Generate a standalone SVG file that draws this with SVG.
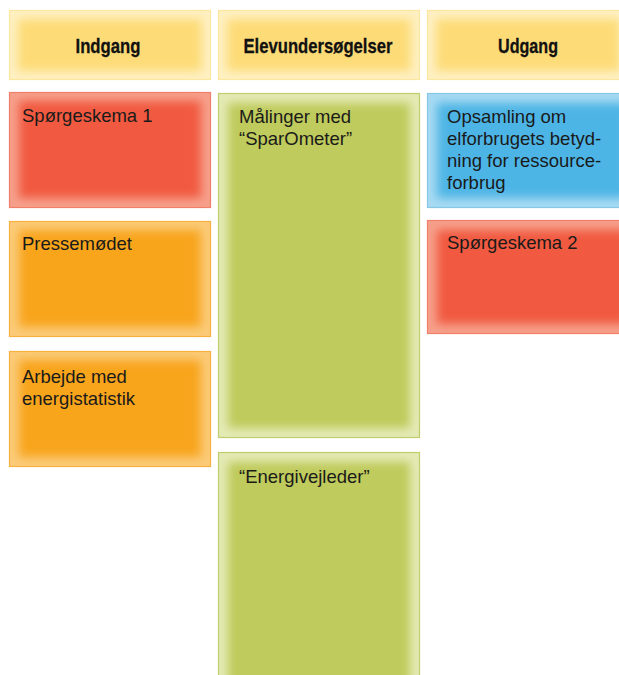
<svg xmlns="http://www.w3.org/2000/svg" width="619" height="675" viewBox="0 0 619 675">
<defs>
<filter id="glow" x="-30%" y="-30%" width="160%" height="160%"><feGaussianBlur stdDeviation="5"/></filter>
<style>
.hd{font-family:"Liberation Sans",Arial,sans-serif;font-weight:bold;font-size:21px;fill:#111;text-anchor:middle;stroke:#111;stroke-width:0.3}
.tx{font-family:"Liberation Sans",Arial,sans-serif;font-size:18.5px;fill:#1a1a1a}
.yo{fill:#FEF0C2;stroke:#FDE6A0;stroke-width:1.2}
.yi{fill:#FDDC78}
.ro{fill:#F6A08C;stroke:#F0806A;stroke-width:1.2}
.ri{fill:#F15A40}
.oo{fill:#FBCB7A;stroke:#F8B040;stroke-width:1.2}
.oi{fill:#F8A51C}
.go{fill:#E4EAB6;stroke:#C2CD6C;stroke-width:1.2}
.gi{fill:#BFCB5C}
.bo{fill:#A8DAF2;stroke:#88C8E6;stroke-width:1.2}
.bi{fill:#4DB5E6}
</style>
</defs>
<rect width="619" height="675" fill="#ffffff"/>
<g id="h-indgang">
<rect class="yo" x="9.5" y="10.5" width="201" height="69"/>
<rect class="yi" x="18" y="19" width="184" height="52" filter="url(#glow)"/>
<text class="hd" x="108" y="53" textLength="65" lengthAdjust="spacingAndGlyphs">Indgang</text>
</g>
<g id="h-elev">
<rect class="yo" x="218.5" y="10.5" width="201" height="69"/>
<rect class="yi" x="227" y="19" width="184" height="52" filter="url(#glow)"/>
<text class="hd" x="318" y="53" textLength="149" lengthAdjust="spacingAndGlyphs">Elevundersøgelser</text>
</g>
<g id="h-udgang">
<rect class="yo" x="427.5" y="10.5" width="201" height="69"/>
<rect class="yi" x="436" y="19" width="184" height="52" filter="url(#glow)"/>
<text class="hd" x="528" y="53" textLength="60" lengthAdjust="spacingAndGlyphs">Udgang</text>
</g>
<g id="n-sp1">
<rect class="ro" x="9.5" y="92.5" width="201" height="115"/>
<rect class="ri" x="19" y="101" width="182" height="97" filter="url(#glow)"/>
<text class="tx" x="22" y="122">Spørgeskema 1</text>
</g>
<g id="n-presse">
<rect class="oo" x="9.5" y="221.5" width="201" height="115"/>
<rect class="oi" x="19" y="230" width="182" height="97" filter="url(#glow)"/>
<text class="tx" x="22" y="250">Pressemødet</text>
</g>
<g id="n-arbejde">
<rect class="oo" x="9.5" y="351.5" width="201" height="115"/>
<rect class="oi" x="19" y="360" width="182" height="97" filter="url(#glow)"/>
<text class="tx" x="22" y="383">Arbejde med</text>
<text class="tx" x="22" y="405">energistatistik</text>
</g>
<g id="n-maalinger">
<rect class="go" x="218.5" y="93.5" width="201" height="344"/>
<rect class="gi" x="228" y="103" width="182" height="325" filter="url(#glow)"/>
<text class="tx" x="239" y="123">Målinger med</text>
<text class="tx" x="239" y="145">“SparOmeter”</text>
</g>
<g id="n-energi">
<rect class="go" x="218.5" y="452.5" width="201" height="250"/>
<rect class="gi" x="228" y="462" width="182" height="250" filter="url(#glow)"/>
<text class="tx" x="239" y="483">“Energivejleder”</text>
</g>
<g id="n-opsamling">
<rect class="bo" x="427.5" y="93.5" width="201" height="114"/>
<rect class="bi" x="437" y="103" width="191" height="95" filter="url(#glow)"/>
<text class="tx" x="447" y="123">Opsamling om</text>
<text class="tx" x="447" y="145">elforbrugets betyd-</text>
<text class="tx" x="447" y="167">ning for ressource-</text>
<text class="tx" x="447" y="189">forbrug</text>
</g>
<g id="n-sp2">
<rect class="ro" x="427.5" y="220.5" width="201" height="113"/>
<rect class="ri" x="437" y="230" width="191" height="94" filter="url(#glow)"/>
<text class="tx" x="447" y="249">Spørgeskema 2</text>
</g>
<g id="connectors"></g>
</svg>
